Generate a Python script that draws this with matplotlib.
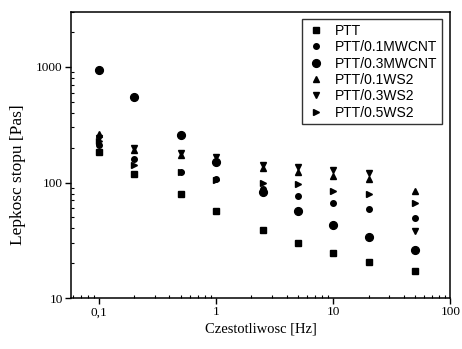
import matplotlib
matplotlib.use("Agg")
import matplotlib.pyplot as plt
from matplotlib.ticker import FixedLocator, LogLocator, NullFormatter

freq = [0.1, 0.2, 0.5, 1, 2.5, 5, 10, 20, 50]

ptt = [185, 119, 80, 57, 39, 30, 24.5, 20.5, 17]
ptt_01mwcnt = [211, 160, 124, 108, 88, 77, 67, 59, 49]
ptt_03mwcnt = [950, 548, 257, 152, 82, 57, 42.5, 33.5, 26]
ptt_01ws2 = [262, 190, 172, 158, 133, 123, 115, 108, 84]
ptt_03ws2 = [245, 200, 180, 165, 143, 136, 128, 121, 38]
ptt_05ws2 = [229, 141, 124, 106, 100, 97, 85, 79, 67]

labels = ["PTT", "PTT/0.1MWCNT", "PTT/0.3MWCNT", "PTT/0.1WS2", "PTT/0.3WS2", "PTT/0.5WS2"]
series = [ptt, ptt_01mwcnt, ptt_03mwcnt, ptt_01ws2, ptt_03ws2, ptt_05ws2]
markers = ["s", "o", "o", "^", "v", ">"]
sizes = [4.8, 4.0, 5.6, 4.8, 4.8, 4.8]

serif = ["Liberation Serif", "DejaVu Serif"]

F = plt.figure(figsize=(4.62, 3.49), dpi=100)
ax = F.add_axes([0.154, 0.146, 0.821, 0.82])

for i in range(len(series)):
  ax.plot(freq, series[i], linestyle="none", marker=markers[i], markersize=sizes[i],
          color="black", label=labels[i])

ax.set_xscale("log")
ax.set_yscale("log")
ax.set_xlim(0.058, 100)
ax.set_ylim(10, 3000)

ax.xaxis.set_major_locator(FixedLocator([0.1, 1, 10, 100]))
ax.set_xticklabels(["0,1", "1", "10", "100"], family=serif, fontsize=9.5)
ax.yaxis.set_major_locator(FixedLocator([10, 100, 1000]))
ax.set_yticklabels(["10", "100", "1000"], family=serif, fontsize=9.5)
ax.xaxis.set_minor_locator(LogLocator(base=10, subs=range(2, 10)))
ax.yaxis.set_minor_locator(LogLocator(base=10, subs=range(2, 10)))
ax.xaxis.set_minor_formatter(NullFormatter())
ax.yaxis.set_minor_formatter(NullFormatter())
ax.tick_params(which="major", direction="out", length=4, width=1, pad=2)
ax.tick_params(which="minor", direction="in", length=2.5, width=0.8)

for s in ax.spines.values():
  s.set_linewidth(1.1)

ax.set_xlabel("Czestotliwosc [Hz]", family=serif, fontsize=10.5, labelpad=3)
ax.set_ylabel("Lepkosc stopu [Pas]", family=serif, fontsize=12.5)
ax.yaxis.set_label_coords(-0.12, 0.43)

leg = ax.legend(loc="upper right", bbox_to_anchor=(0.985, 0.985),
                prop={"family": ["Liberation Sans", "DejaVu Sans"], "size": 10},
                frameon=True, fancybox=False, edgecolor="black", borderpad=0.35,
                labelspacing=0.17, handletextpad=0.7, handlelength=1.3,
                borderaxespad=0.2)
leg.get_frame().set_linewidth(1.0)

F.savefig("out.png", dpi=100)
